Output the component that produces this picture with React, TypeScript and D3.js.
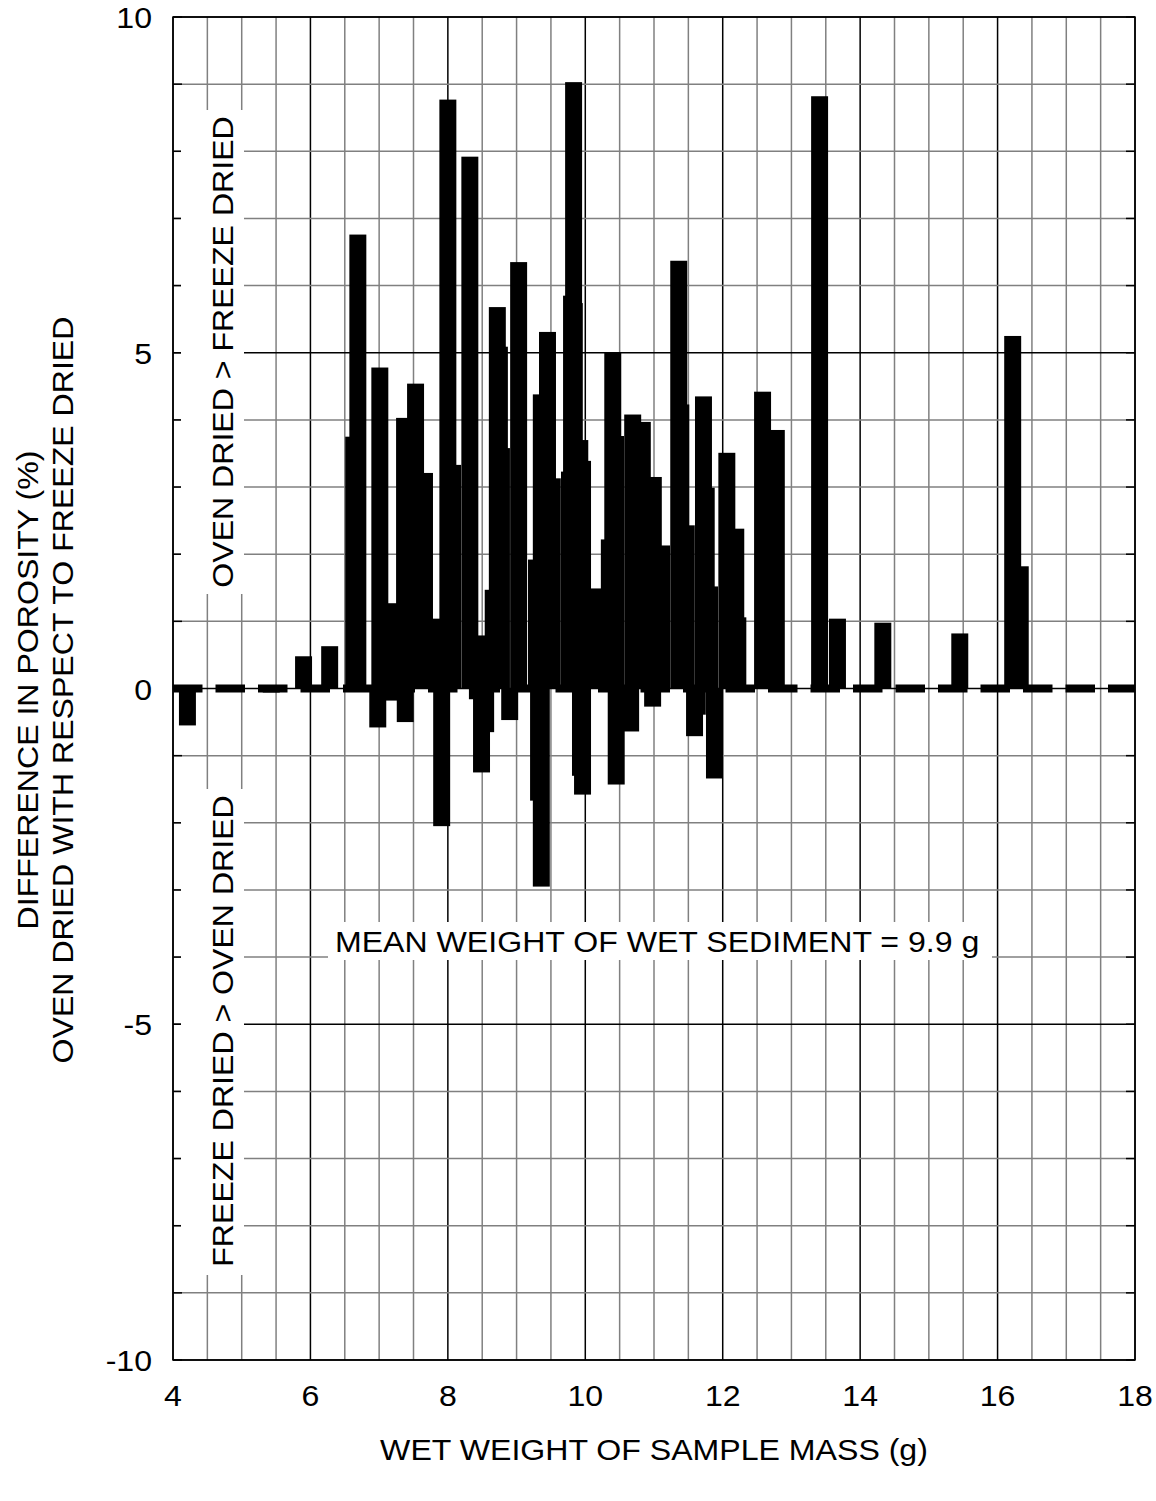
import React from 'react'
import * as d3 from 'd3'

const WIDTH = 1156
const HEIGHT = 1501
const PLOT = { left: 173, right: 1135, top: 17, bottom: 1360 }

const xTicks = [4, 6, 8, 10, 12, 14, 16, 18]
const yTicks = [-10, -5, 0, 5, 10]

// wet weight (g) and porosity difference (%) per sample
const wetWeight = [
  4.21, 5.43, 5.9, 6.28, 6.63, 6.69, 6.98, 7.01, 7.18, 7.22, 7.37, 7.38, 7.53, 7.66, 7.79,
  7.91, 8.0, 8.07, 8.32, 8.42, 8.43, 8.49, 8.55, 8.66, 8.72, 8.75, 8.78, 8.9, 9.03, 9.29,
  9.32, 9.36, 9.36, 9.45, 9.52, 9.77, 9.8, 9.83, 9.84, 9.92, 9.93, 9.96, 9.96, 10.12, 10.35,
  10.4, 10.44, 10.45, 10.66, 10.69, 10.83, 10.98, 10.99, 11.11, 11.36, 11.39, 11.47, 11.59,
  11.63, 11.72, 11.76, 11.81, 11.88, 12.06, 12.19, 12.22, 12.58, 12.78, 13.41, 13.67, 14.33,
  15.45, 16.22, 16.33,
]
const porosityDiff = [
  -0.55, -0.06, 0.48, 0.63, 3.75, 6.76, -0.58, 4.78, -0.18, 1.27, 4.03, -0.5, 4.54, 3.21, 1.04,
  -2.05, 8.77, 3.33, 7.92, 0.79, -0.16, -1.25, -0.65, 1.47, 5.68, 5.09, 3.58, -0.47, 6.35, 1.92,
  -1.67, -2.95, 4.38, 5.31, 3.13, 3.23, 5.85, 9.03, 5.74, 3.7, -1.3, 3.39, -1.58, 1.49, 2.22,
  5.01, 3.76, -1.43, -0.64, 4.08, 3.97, -0.27, 3.15, 2.13, 6.37, 4.23, 2.43, -0.71,
  -0.39, 4.35, 2.99, 1.52, -1.34, 3.51, 2.38, 1.06, 4.42, 3.85, 8.82, 1.04, 0.98,
  0.82, 5.25, 1.82,
]
const barWidth = 0.247 // grams

const FONT = 'Liberation Sans, Arial, sans-serif'
const FS = 30
const SX = 1.07 // the original lettering is a bit wider than Arial

function Label({ x, y, rot = 0, anchor = 'middle', children }: any) {
  return (
    <text
      transform={`translate(${x},${y}) rotate(${rot}) scale(${SX},1)`}
      textAnchor={anchor}
      fontSize={FS}
    >
      {children}
    </text>
  )
}

export default function App() {
  const x = d3.scaleLinear().domain([4, 18]).range([PLOT.left, PLOT.right])
  const y = d3.scaleLinear().domain([-10, 10]).range([PLOT.bottom, PLOT.top])

  const xGrid = d3.range(4, 18.001, 0.5)
  const yGrid = d3.range(-10, 10.001, 1)
  const bw = x(4 + barWidth) - x(4)

  const bars = wetWeight.map((g, i) => ({ g, v: porosityDiff[i] }))

  return (
    <svg
      width={WIDTH}
      height={HEIGHT}
      style={{ position: 'absolute', left: 0, top: 0, background: '#fff' }}
      fontFamily={FONT}
    >
      <rect x={0} y={0} width={WIDTH} height={HEIGHT} fill="#fff" />

      {/* grid */}
      {xGrid.map(g => (
        <line
          key={'gx' + g}
          x1={x(g)}
          x2={x(g)}
          y1={PLOT.top}
          y2={PLOT.bottom}
          stroke={g % 2 === 0 ? '#000' : '#808080'}
          strokeWidth={1.5}
        />
      ))}
      {yGrid.map(v => (
        <line
          key={'gy' + v}
          x1={PLOT.left}
          x2={PLOT.right}
          y1={y(v)}
          y2={y(v)}
          stroke={v % 5 === 0 ? '#000' : '#808080'}
          strokeWidth={1.5}
        />
      ))}

      {/* bars */}
      {bars.map((d, i) => (
        <rect
          key={'b' + i}
          x={x(d.g) - bw / 2}
          width={bw}
          y={y(Math.max(0, d.v))}
          height={Math.abs(y(d.v) - y(0))}
          fill="#000"
        />
      ))}

      {/* heavy dashed zero line */}
      <line
        x1={PLOT.left}
        x2={PLOT.right}
        y1={y(0)}
        y2={y(0)}
        stroke="#000"
        strokeWidth={8}
        strokeDasharray="29.5 13"
      />

      {/* frame + inward ticks */}
      <rect
        x={PLOT.left}
        y={PLOT.top}
        width={PLOT.right - PLOT.left}
        height={PLOT.bottom - PLOT.top}
        fill="none"
        stroke="#000"
        strokeWidth={1.5}
      />
      {yGrid.map(v => (
        <g key={'t' + v}>
          <line x1={PLOT.left} x2={PLOT.left + 9} y1={y(v)} y2={y(v)} stroke="#000" strokeWidth={1.5} />
          <line x1={PLOT.right - 9} x2={PLOT.right} y1={y(v)} y2={y(v)} stroke="#000" strokeWidth={1.5} />
        </g>
      ))}

      {/* in-plot labels on white boxes */}
      <rect x={181} y={110} width={63} height={484} fill="#fff" />
      <Label x={233} y={352} rot={-90}>
        OVEN DRIED &gt; FREEZE DRIED
      </Label>
      <rect x={181} y={789} width={63} height={486} fill="#fff" />
      <Label x={233} y={1031} rot={-90}>
        FREEZE DRIED &gt; OVEN DRIED
      </Label>

      <rect x={328} y={922} width={664} height={38} fill="#fff" />
      <Label x={335} y={952} anchor="start">
        MEAN WEIGHT OF WET SEDIMENT = 9.9 g
      </Label>

      {/* tick labels */}
      {xTicks.map(t => (
        <Label key={'xl' + t} x={x(t)} y={1406}>
          {t}
        </Label>
      ))}
      {yTicks.map(t => (
        <Label key={'yl' + t} x={152} y={y(t) + 11} anchor="end">
          {t}
        </Label>
      ))}

      {/* axis titles */}
      <Label x={(PLOT.left + PLOT.right) / 2} y={1460}>
        WET WEIGHT OF SAMPLE MASS (g)
      </Label>
      <Label x={38} y={690} rot={-90}>
        DIFFERENCE IN POROSITY (%)
      </Label>
      <Label x={73} y={690} rot={-90}>
        OVEN DRIED WITH RESPECT TO FREEZE DRIED
      </Label>
    </svg>
  )
}
